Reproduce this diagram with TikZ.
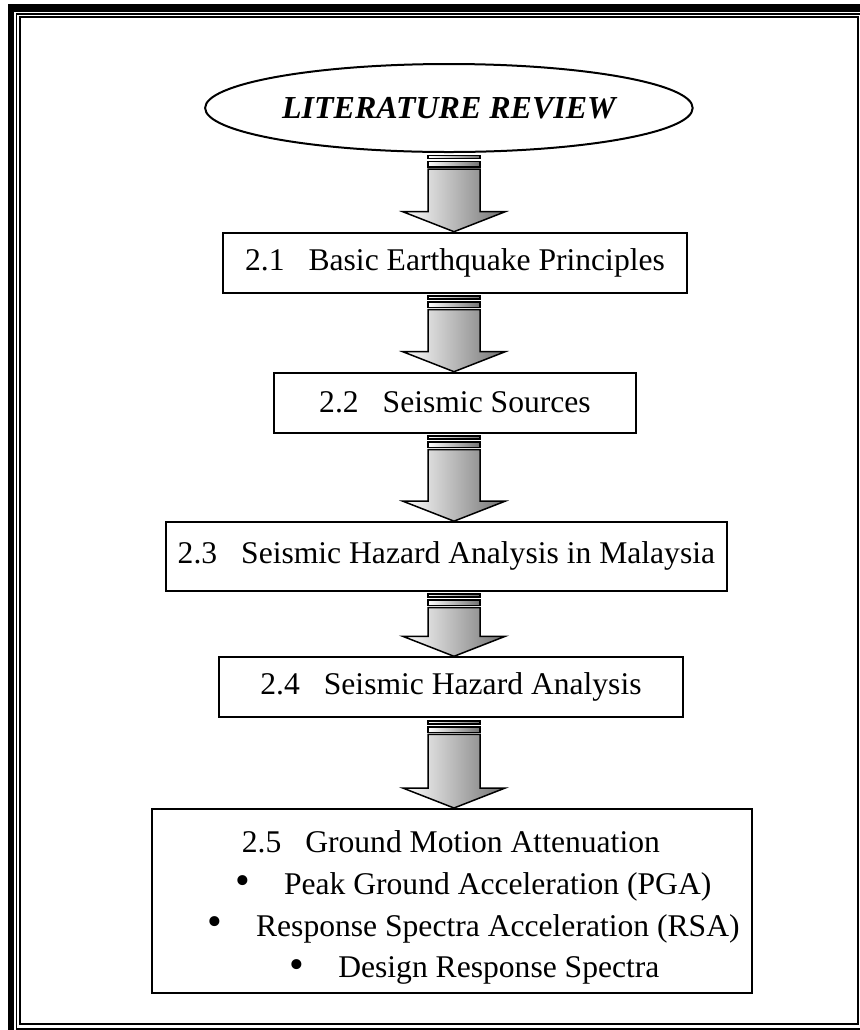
\documentclass[tikz,border=0pt]{standalone}
\usepackage{fontspec}
\setmainfont{Liberation Serif}
\usetikzlibrary{calc,shapes.geometric}

\tikzset{
  box/.style={draw=black, line width=1pt, inner sep=0pt, fill=white,
    font=\fontsize{15.8}{19}\selectfont},
  oval/.style={draw=black, line width=1pt, ellipse, inner sep=0pt,
    font=\fontsize{16}{19}\selectfont\bfseries\itshape},
  lbl/.style={inner sep=0pt, anchor=base west, font=\fontsize{15.8}{19}\selectfont},
  bul/.style={inner sep=0pt, anchor=center, font=\fontsize{21}{21}\selectfont},
  arrline/.style={draw=black, line width=0.75pt, line join=miter},
  arrshade/.style={left color=white, right color=black!55},
}

\newcommand{\striparrow}[2]{%
  \draw[arrline, arrshade] let \p1=(#1.south), \p2=(#2.north), \p3=(ax) in
    (\x3-13pt,\y1-1.25pt) rectangle (\x3+13pt,\y1-2.75pt);
  \draw[arrline, arrshade] let \p1=(#1.south), \p2=(#2.north), \p3=(ax) in
    (\x3-13pt,\y1-4.25pt) rectangle (\x3+13pt,\y1-7pt);
  \draw[arrline, arrshade] let \p1=(#1.south), \p2=(#2.north), \p3=(ax) in
    (\x3-13pt,\y1-8pt) -- (\x3-13pt,\y2+10pt) -- (\x3-25.6pt,\y2+10pt) --
    (\x3,\y2) -- (\x3+25.6pt,\y2+10pt) -- (\x3+13pt,\y2+10pt) --
    (\x3+13pt,\y1-8pt) -- cycle;
}

\begin{document}
\begin{tikzpicture}[x=0.5pt, y=-0.5pt]
\useasboundingbox (0,0) rectangle (860,1030);

% page border
\fill[black] (8,4) rectangle (860,12);
\fill[black] (8,4) rectangle (14,1030);
\draw[line width=0.7pt] (16.7,1030) -- (16.7,14) -- (860,14);
\draw[line width=0.7pt] (16.7,1029) -- (860,1029);
\draw[line width=1pt] (19.7,16.7) rectangle (858.3,1023.7);

\coordinate (ax) at (454,0);

\node[oval, minimum width=243.8pt, minimum height=44pt] (lr) at (448.9,108) {LITERATURE REVIEW};

\node[box, minimum width=231.7pt, minimum height=30pt] (b1) at (455,262.7)
  {2.1\hspace{12pt}Basic Earthquake Principles};
\node[box, minimum width=181pt, minimum height=30pt] (b2) at (455,402.7)
  {2.2\hspace{12pt}Seismic Sources};
\node[box, minimum width=280.5pt, minimum height=34.25pt] (b3) at (446.4,556.4)
  {2.3\hspace{12pt}Seismic Hazard Analysis in Malaysia};
\node[box, minimum width=231.7pt, minimum height=30pt] (b4) at (451,687.3)
  {2.4\hspace{12pt}Seismic Hazard Analysis};
\node[box, minimum width=300pt, minimum height=92pt] (b5) at (451.7,901) {};

\node[lbl] (t1) at (241.4,852.5) {2.5\hspace{12pt}Ground Motion Attenuation};
\node[bul] (u2) at (243.2,884.6) {•};
\node[lbl] (t2) at (283.6,894.3) {Peak Ground Acceleration (PGA)};
\node[bul] (u3) at (214.6,925.7) {•};
\node[lbl] (t3) at (255.7,936.4) {Response Spectra Acceleration (RSA)};
\node[bul] (u4) at (296.8,968.6) {•};
\node[lbl] (t4) at (337.9,977.5) {Design Response Spectra};

\striparrow{lr}{b1}
\striparrow{b1}{b2}
\striparrow{b2}{b3}
\striparrow{b3}{b4}
\striparrow{b4}{b5}
\end{tikzpicture}
\end{document}
